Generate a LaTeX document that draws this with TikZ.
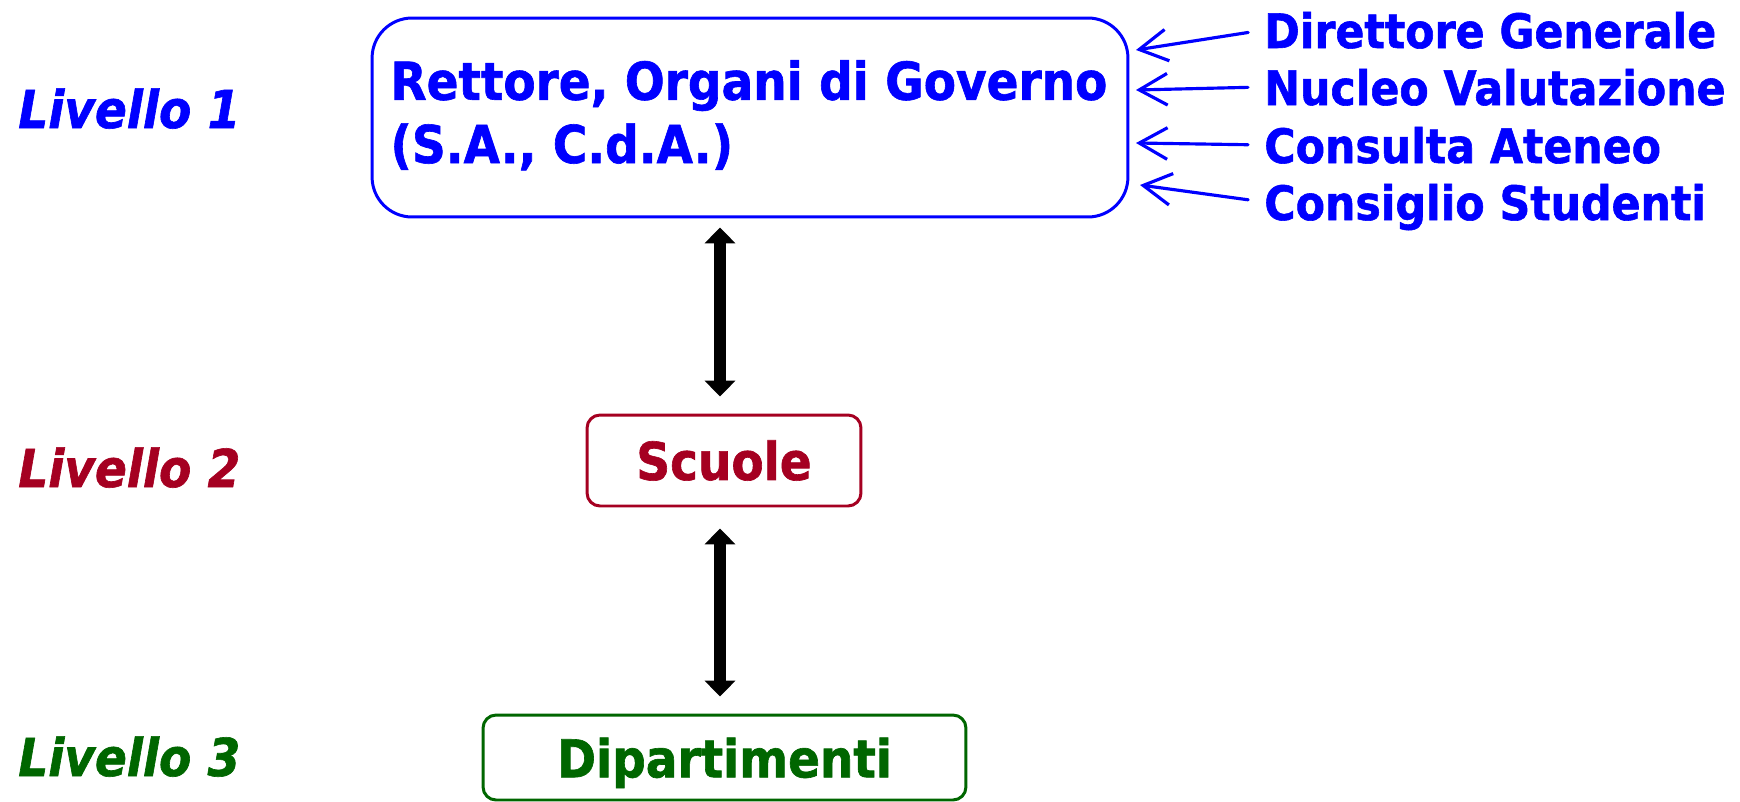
\documentclass[tikz,border=0pt]{standalone}
\usepackage{fontspec}
\setmainfont{DejaVu Sans}[FakeStretch=0.9, BoldFeatures={FakeBold=1.2}, BoldItalicFeatures={FakeBold=1.2}]
\usetikzlibrary{arrows.meta}

\definecolor{bluLiv}{RGB}{0,0,255}
\definecolor{rossoLiv}{RGB}{165,0,33}
\definecolor{verdeLiv}{RGB}{0,102,0}

\begin{document}
\begin{tikzpicture}[x=0.02cm,y=-0.02cm,
  livello/.style={font=\fontsize{29.7}{36.4}\selectfont\bfseries\itshape, inner sep=0pt, anchor=base west},
  ente/.style={font=\fontsize{29.7}{36}\selectfont\bfseries, line width=1.7pt, rounded corners=0.26cm},
  organo/.style={font=\fontsize{27}{33}\selectfont\bfseries, text=bluLiv, inner sep=0pt, text depth=0pt, anchor=base west},
  ingresso/.style={draw=bluLiv, line width=1.8pt, line cap=round, -{Straight Barb[length=16pt,width=18pt]}, shorten <=0.32cm},
  legame/.style={line width=6.5pt, {Triangle[length=9pt,width=17pt]}-{Triangle[length=9pt,width=17pt]}}]
\useasboundingbox (0,0) rectangle (1740,801);

% livelli
\node[livello, text=bluLiv] (livello1) at (18,128) {Livello 1};
\node[livello, text=rossoLiv] (livello2) at (18,487) {Livello 2};
\node[livello, text=verdeLiv] (livello3) at (18,776) {Livello 3};

% organi di governo
\node[ente, draw=bluLiv, rounded corners=0.8cm, minimum width=15.12cm, minimum height=3.98cm] (governo) at (750,117.5) {};
\node[ente, text=bluLiv, align=left, anchor=base west, inner sep=0pt] (governotxt) at (389,163) {Rettore, Organi di Governo\\(S.A., C.d.A.)};
\node[ente, draw=rossoLiv, text=rossoLiv, minimum width=5.48cm, minimum height=1.82cm] (scuole) at (724,460.5) {Scuole};
\node[ente, draw=verdeLiv, text=verdeLiv, text depth=0pt, minimum width=9.66cm, minimum height=1.7cm] (dipartimenti) at (724.5,757.5) {Dipartimenti};

% organi consultivi
\node[organo] (direttore) at (1264,48) {Direttore Generale};
\node[organo] (nucleo) at (1264,105) {Nucleo Valutazione};
\node[organo] (consulta) at (1264,163) {Consulta Ateneo};
\node[organo] (consiglio) at (1264,220) {Consiglio Studenti};
\coordinate (in1) at (1136,50);
\coordinate (in2) at (1136,90);
\coordinate (in3) at (1136,143);
\coordinate (in4) at (1140,185);
\draw[ingresso] (direttore.west) -- (in1);
\draw[ingresso] (nucleo.west) -- (in2);
\draw[ingresso] (consulta.west) -- (in3);
\draw[ingresso] (consiglio.west) -- (in4);

% collegamenti
\draw[legame, shorten <=0.18cm, shorten >=0.34cm] ([xshift=-0.08cm]scuole.north |- governo.south) -- ([xshift=-0.08cm]scuole.north);
\draw[legame, shorten <=0.42cm, shorten >=0.34cm] ([xshift=-0.08cm]scuole.south) -- ([xshift=-0.08cm]scuole.south |- dipartimenti.north);
\end{tikzpicture}
\end{document}
